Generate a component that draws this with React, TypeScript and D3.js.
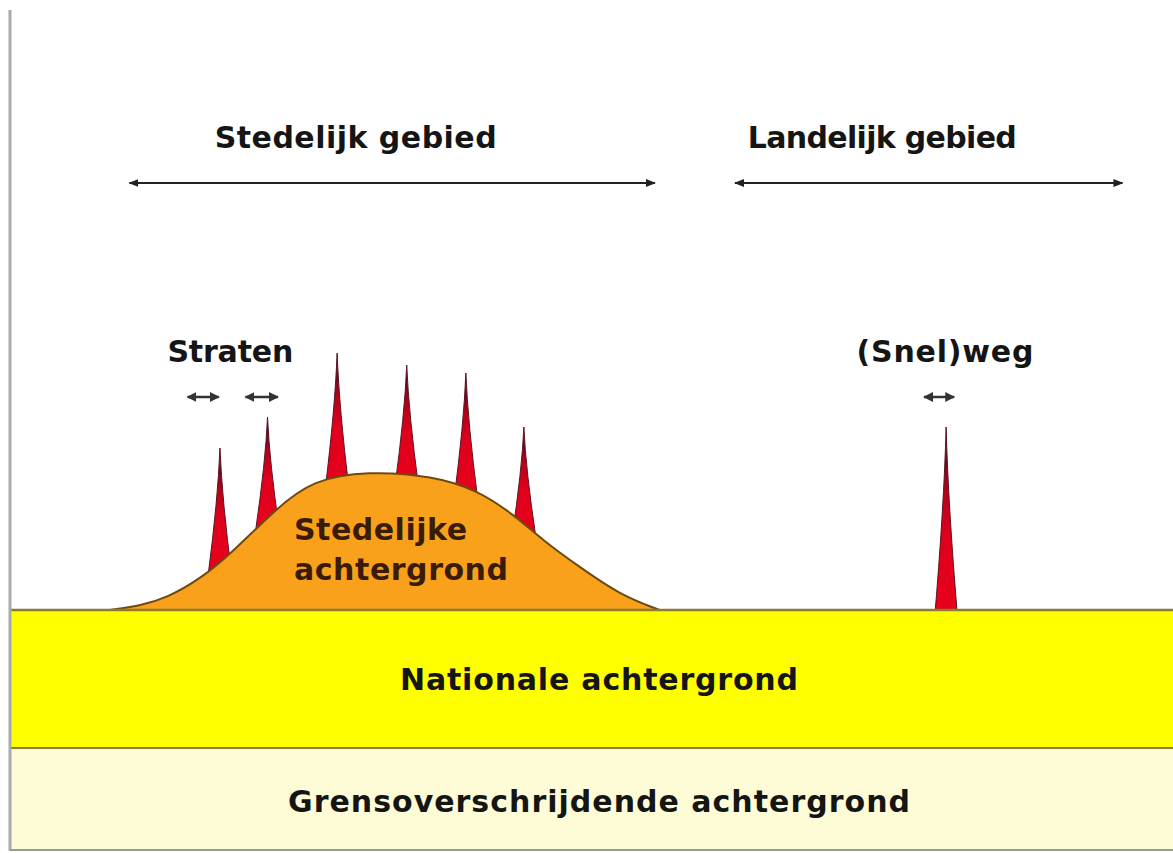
import React from 'react';
import * as d3 from 'd3';

// horizontal distance (0..100) and concentration level (0..100)
const GRENS_LEVEL = 20.4;
const NATIONAL_LEVEL = 48;

const hillDist = [8.6, 11.2, 13.5, 16.4, 19.2, 23.0, 26.1, 30.8, 36.5, 40.3, 43.7, 45.9, 49.1, 52.6, 56.0];
const hillLevel = [48, 48.8, 50.4, 54.2, 59.6, 68.4, 74, 75.8, 74.8, 72, 66.6, 62, 56.6, 51, 48];

const spikeDist = [18.1, 22.2, 28.2, 34.2, 39.3, 44.3, 80.7];
const spikeLevel = [80.4, 86.6, 99.4, 97, 95.4, 84.6, 84.6];

const zones = [
  { label: 'Stedelijk gebied', from: 10.3, to: 55.6, labelAt: 29.8, width: 282 },
  { label: 'Landelijk gebied', from: 62.5, to: 95.9, labelAt: 75.2, width: 269 },
];

const sources = [
  { label: 'Straten', labelAt: 19.0, width: 126, arrows: [[15.3, 18.0], [20.3, 23.1]] },
  { label: '(Snel)weg', labelAt: 80.6, width: 177, arrows: [[78.8, 81.4]] },
];

const W = 1173;
const H = 853;
const FONT = '"DejaVu Sans", Verdana, sans-serif';

export default function App() {
  const x = d3.scaleLinear().domain([0, 100]).range([10, 1170]);
  const y = d3.scaleLinear().domain([0, 100]).range([850, 350]);

  const hill = hillDist.map((d, i) => ({ d, v: hillLevel[i] }));
  const hillArea = d3.area<{ d: number; v: number }>()
    .x(p => x(p.d))
    .y0(y(NATIONAL_LEVEL))
    .y1(p => y(p.v))
    .curve(d3.curveBasis);
  const hillLine = d3.line<{ d: number; v: number }>()
    .x(p => x(p.d))
    .y(p => y(p.v))
    .curve(d3.curveBasis);

  const hillAt = (d: number) => {
    if (d < hillDist[0] || d > hillDist[hillDist.length - 1]) return NATIONAL_LEVEL;
    const i = Math.max(1, d3.bisectLeft(hillDist, d));
    const t = (d - hillDist[i - 1]) / (hillDist[i] - hillDist[i - 1]);
    return hillLevel[i - 1] + t * (hillLevel[i] - hillLevel[i - 1]);
  };

  const spikePath = (d: number, top: number) => {
    const cx = x(d);
    const ty = y(top);
    const by = y(hillAt(d)) + 14;
    const hw = 12;
    const h = by - ty;
    return `M${cx - hw},${by} Q${cx - 2},${ty + h * 0.4} ${cx},${ty} Q${cx + 2},${ty + h * 0.4} ${cx + hw},${by} Z`;
  };

  const bandX0 = x(0);
  const bandX1 = W;

  return (
    <svg width={W} height={H} style={{ position: 'absolute', left: 0, top: 0, background: '#fff' }}>
      <defs>
        <linearGradient id="spikeGrad" x1="0" y1="0" x2="0" y2="1">
          <stop offset="0" stopColor="#1e1020" />
          <stop offset="0.3" stopColor="#b0001a" />
          <stop offset="0.55" stopColor="#e0001c" />
          <stop offset="1" stopColor="#e8001c" />
        </linearGradient>
        <marker id="ah" viewBox="0 0 10 10" refX="9" refY="5" markerWidth="5" markerHeight="5" orient="auto-start-reverse">
          <path d="M0,1 L10,5 L0,9 Z" fill="#222" />
        </marker>
        <marker id="ahs" viewBox="0 0 10 10" refX="9" refY="5" markerWidth="4" markerHeight="4" orient="auto-start-reverse">
          <path d="M0,0 L10,5 L0,10 Z" fill="#333" />
        </marker>
      </defs>

      {/* cross-border band */}
      <rect x={bandX0} y={y(GRENS_LEVEL)} width={bandX1 - bandX0} height={y(0) - y(GRENS_LEVEL)} fill="#fdfcd6" />

      {/* spikes */}
      {spikeDist.map((d, i) => (
        <path key={i} d={spikePath(d, spikeLevel[i])} fill="url(#spikeGrad)" stroke="#5a1420" strokeWidth={1} />
      ))}

      {/* urban hill */}
      <path d={hillArea(hill) ?? ''} fill="#f9a11b" />
      <path d={hillLine(hill) ?? ''} fill="none" stroke="#6e4a12" strokeWidth={2} />

      {/* national band */}
      <rect x={bandX0} y={y(NATIONAL_LEVEL)} width={bandX1 - bandX0} height={y(GRENS_LEVEL) - y(NATIONAL_LEVEL)} fill="#ffff00" />
      <line x1={bandX0} x2={bandX1} y1={y(GRENS_LEVEL)} y2={y(GRENS_LEVEL)} stroke="#8c7d2c" strokeWidth={2} />
      <line x1={bandX0} x2={bandX1} y1={y(NATIONAL_LEVEL)} y2={y(NATIONAL_LEVEL)} stroke="#8c7d2c" strokeWidth={2.5} />

      {/* frame */}
      <line x1={x(0)} x2={x(0)} y1={10} y2={851} stroke="#aaa" strokeWidth={3} />
      <line x1={x(0)} x2={W} y1={850} y2={850} stroke="#999" strokeWidth={2} />

      {/* zones */}
      {zones.map(z => (
        <g key={z.label}>
          <text x={x(z.labelAt)} y={148} textAnchor="middle" fontFamily={FONT} fontWeight="bold" fontSize={30}
            fill="#151515" textLength={z.width} lengthAdjust="spacing">{z.label}</text>
          <line x1={x(z.from)} x2={x(z.to)} y1={183} y2={183} stroke="#222" strokeWidth={2}
            markerStart="url(#ah)" markerEnd="url(#ah)" />
        </g>
      ))}

      {/* sources */}
      {sources.map(s => (
        <g key={s.label}>
          <text x={x(s.labelAt)} y={362} textAnchor="middle" fontFamily={FONT} fontWeight="bold" fontSize={30}
            fill="#151515" textLength={s.width} lengthAdjust="spacing">{s.label}</text>
          {s.arrows.map(([a, b], j) => (
            <line key={j} x1={x(a)} x2={x(b)} y1={397} y2={397} stroke="#333" strokeWidth={2.5}
              markerStart="url(#ahs)" markerEnd="url(#ahs)" />
          ))}
        </g>
      ))}

      {/* layer labels */}
      <text x={294} y={540} fontFamily={FONT} fontWeight="bold" fontSize={30} fill="#3a1c06"
        textLength={173} lengthAdjust="spacing">Stedelijke</text>
      <text x={294} y={580} fontFamily={FONT} fontWeight="bold" fontSize={30} fill="#3a1c06"
        textLength={214} lengthAdjust="spacing">achtergrond</text>
      <text x={599} y={690} textAnchor="middle" fontFamily={FONT} fontWeight="bold" fontSize={30} fill="#151515"
        textLength={398} lengthAdjust="spacing">Nationale achtergrond</text>
      <text x={599} y={812} textAnchor="middle" fontFamily={FONT} fontWeight="bold" fontSize={30} fill="#151515"
        textLength={622} lengthAdjust="spacing">Grensoverschrijdende achtergrond</text>
    </svg>
  );
}
